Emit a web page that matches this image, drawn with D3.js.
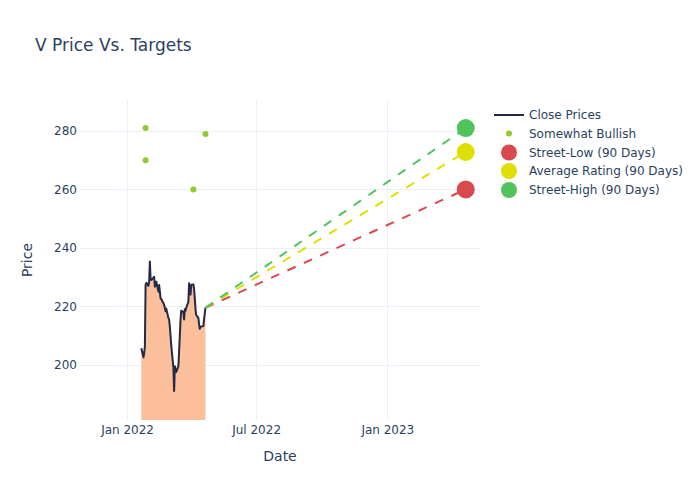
<!DOCTYPE html>
<html>
<head>
<meta charset="utf-8">
<script src="https://cdn.jsdelivr.net/npm/d3@7"></script>
<style>
  html, body { margin: 0; padding: 0; background: #fff; }
  svg { display: block; font-family: "DejaVu Sans", sans-serif; }
</style>
</head>
<body>
<div id="chart"></div>
<script>
// ---- Data ----
const closeDates = [
  "2022-01-21","2022-01-24","2022-01-25","2022-01-26","2022-01-27","2022-01-28","2022-01-31",
  "2022-02-01","2022-02-02","2022-02-03","2022-02-04","2022-02-07","2022-02-08","2022-02-09","2022-02-10","2022-02-11",
  "2022-02-14","2022-02-15","2022-02-16","2022-02-17","2022-02-18","2022-02-22","2022-02-23","2022-02-24","2022-02-25","2022-02-28",
  "2022-03-01","2022-03-02","2022-03-03","2022-03-04","2022-03-07","2022-03-08","2022-03-09","2022-03-10","2022-03-11",
  "2022-03-14","2022-03-15","2022-03-16","2022-03-17","2022-03-18","2022-03-21","2022-03-22","2022-03-23","2022-03-24","2022-03-25",
  "2022-03-28","2022-03-29","2022-03-30","2022-03-31","2022-04-01","2022-04-04","2022-04-05","2022-04-06","2022-04-07","2022-04-08",
  "2022-04-11","2022-04-12","2022-04-13","2022-04-14","2022-04-18","2022-04-19","2022-04-20","2022-04-21"
];
const closePrices = [
  205.6, 202.5, 204.0, 206.2, 227.3, 228.0, 227.0,
  228.5, 235.3, 229.5, 229.0, 229.8, 230.1, 226.7, 227.5, 228.4,
  225.0, 227.3, 225.0, 222.7, 222.5, 220.5, 219.5, 218.3, 219.2, 216.0,
  215.5, 213.0, 210.0, 206.5, 199.0, 191.0, 199.5, 198.5, 197.5,
  199.5, 204.5, 210.0, 215.5, 218.5, 218.0, 215.5, 219.0, 218.5, 219.5,
  221.5, 227.9, 226.5, 224.0, 227.3, 227.5, 226.0, 222.7, 219.0, 217.0,
  216.0, 214.0, 212.3, 213.0, 213.2, 215.5, 217.6, 219.5
];

const bullishDates = ["2022-01-27", "2022-01-27", "2022-04-04", "2022-04-21"];
const bullishTargets = [281, 270, 260, 279];

const targetStartDate = "2022-04-21";
const targetEndDate = "2023-04-21";
const targetNames = ["Street-Low (90 Days)", "Average Rating (90 Days)", "Street-High (90 Days)"];
const targetValues = [260, 272.8, 281];
const targetColors = ["#d94a50", "#dfdf00", "#50c45a"];

const legendLabels = ["Close Prices", "Somewhat Bullish", "Street-Low (90 Days)", "Average Rating (90 Days)", "Street-High (90 Days)"];

const xTickDates = ["2022-01-01", "2022-07-01", "2023-01-01"];
const xTickLabels = ["Jan 2022", "Jul 2022", "Jan 2023"];
const yTicks = [200, 220, 240, 260, 280];

// ---- Layout ----
const W = 700, H = 500;
const plot = { left: 80, right: 480, top: 100, bottom: 420 };
const textColor = "#2a3f5f";
const gridColor = "#ebf0f8";
const parse = d3.timeParse("%Y-%m-%d");

const x = d3.scaleTime()
  .domain([parse("2021-10-27"), parse("2023-05-11")])
  .range([plot.left, plot.right]);
const y = d3.scaleLinear()
  .domain([181.07, 290.6])
  .range([plot.bottom, plot.top]);

const svg = d3.select("#chart").append("svg")
  .attr("width", W).attr("height", H);

svg.append("defs").append("clipPath").attr("id", "clip")
  .append("rect")
  .attr("x", plot.left).attr("y", plot.top)
  .attr("width", plot.right - plot.left).attr("height", plot.bottom - plot.top);

// Title
svg.append("text")
  .attr("x", 35).attr("y", 51)
  .attr("fill", textColor).attr("font-size", 17)
  .text("V Price Vs. Targets");

// Grid
const grid = svg.append("g");
grid.selectAll("line.h").data(yTicks).enter().append("line")
  .attr("x1", plot.left).attr("x2", plot.right)
  .attr("y1", d => Math.round(y(d)) + 0.5).attr("y2", d => Math.round(y(d)) + 0.5)
  .attr("stroke", gridColor).attr("stroke-width", 1);
grid.selectAll("line.v").data(xTickDates).enter().append("line")
  .attr("y1", plot.top).attr("y2", plot.bottom)
  .attr("x1", d => Math.round(x(parse(d))) + 0.5).attr("x2", d => Math.round(x(parse(d))) + 0.5)
  .attr("stroke", gridColor).attr("stroke-width", 1);

// Axes (labels only, no domain line)
const yAxis = d3.axisLeft(y).tickValues(yTicks).tickSize(0).tickPadding(3);
const gy = svg.append("g").attr("transform", `translate(${plot.left - 0},0)`).call(yAxis);
gy.select(".domain").remove();
gy.selectAll("text").attr("fill", textColor).attr("font-size", 12)
  .attr("font-family", "DejaVu Sans, sans-serif");

const xAxis = d3.axisBottom(x).tickValues(xTickDates.map(parse))
  .tickFormat((d, i) => xTickLabels[i]).tickSize(0).tickPadding(5);
const gx = svg.append("g").attr("transform", `translate(0,${plot.bottom})`).call(xAxis);
gx.select(".domain").remove();
gx.selectAll("text").attr("fill", textColor).attr("font-size", 12)
  .attr("font-family", "DejaVu Sans, sans-serif");

// Axis titles
svg.append("text")
  .attr("x", (plot.left + plot.right) / 2).attr("y", 461)
  .attr("text-anchor", "middle").attr("fill", textColor).attr("font-size", 14)
  .text("Date");
svg.append("text")
  .attr("transform", `translate(32,${(plot.top + plot.bottom) / 2}) rotate(-90)`)
  .attr("text-anchor", "middle").attr("fill", textColor).attr("font-size", 14)
  .text("Price");

// Data series
const closeData = closeDates.map((d, i) => ({ date: parse(d), value: closePrices[i] }));
const g = svg.append("g").attr("clip-path", "url(#clip)");

g.append("path").datum(closeData)
  .attr("d", d3.area().x(d => x(d.date)).y0(plot.bottom).y1(d => y(d.value)))
  .attr("fill", "#fbbf9c");

g.append("path").datum(closeData)
  .attr("d", d3.line().x(d => x(d.date)).y(d => y(d.value)))
  .attr("fill", "none").attr("stroke", "#222a45").attr("stroke-width", 2)
  .attr("stroke-linejoin", "round");

g.selectAll("circle.bull").data(bullishDates.map((d, i) => ({ date: parse(d), value: bullishTargets[i] })))
  .enter().append("circle")
  .attr("cx", d => x(d.date)).attr("cy", d => y(d.value)).attr("r", 3)
  .attr("fill", "#8ccc2c");

const startVal = closePrices[closePrices.length - 1];
targetValues.forEach((v, i) => {
  const pts = [{ date: parse(targetStartDate), value: startVal }, { date: parse(targetEndDate), value: v }];
  g.append("path").datum(pts)
    .attr("d", d3.line().x(d => x(d.date)).y(d => y(d.value)))
    .attr("fill", "none").attr("stroke", targetColors[i]).attr("stroke-width", 2)
    .attr("stroke-dasharray", "9,9");
  g.append("circle")
    .attr("cx", x(parse(targetEndDate))).attr("cy", y(v)).attr("r", 9)
    .attr("fill", targetColors[i]);
});

// Legend
const legend = svg.append("g");
const rowY = [115, 133.5, 152.5, 171, 190];
legendLabels.forEach((lab, i) => {
  const yy = rowY[i];
  if (i === 0) {
    legend.append("line").attr("x1", 494).attr("x2", 524).attr("y1", yy).attr("y2", yy)
      .attr("stroke", "#222a45").attr("stroke-width", 2);
  } else if (i === 1) {
    legend.append("circle").attr("cx", 509).attr("cy", yy).attr("r", 3).attr("fill", "#8ccc2c");
  } else {
    legend.append("circle").attr("cx", 509).attr("cy", yy).attr("r", 8).attr("fill", targetColors[i - 2]);
  }
  legend.append("text").attr("x", 529).attr("y", yy).attr("dy", "0.35em")
    .attr("fill", textColor).attr("font-size", 12).text(lab);
});
</script>
</body>
</html>
